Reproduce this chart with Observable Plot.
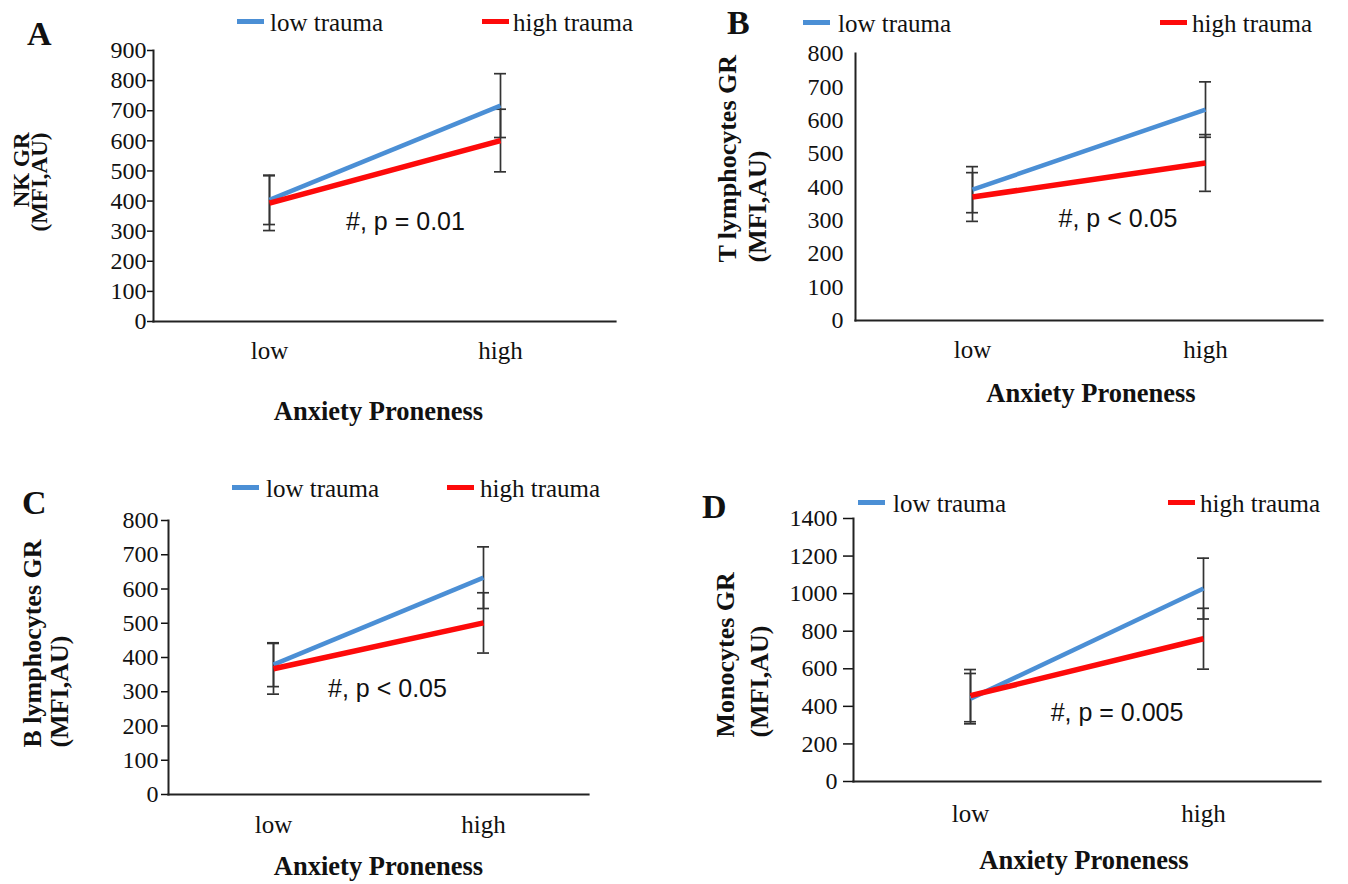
<!DOCTYPE html>
<html><head><meta charset="utf-8">
<script src="https://cdn.jsdelivr.net/npm/d3@7"></script>
<script src="https://cdn.jsdelivr.net/npm/@observablehq/plot@0.6"></script>
<style>
body{margin:0;background:#fff;}
#page{position:relative;width:1348px;height:884px;overflow:hidden;font-family:"Liberation Serif",serif;color:#111;background:#fff;}
#page svg{position:absolute;overflow:visible;}
.letter{position:absolute;font-weight:bold;font-size:34px;line-height:34px;}
.sw{position:absolute;width:27px;height:5px;}
.lt{position:absolute;font-size:25px;line-height:25px;white-space:nowrap;}
</style></head><body><div id="page"></div>
<script>
// ---------- data ----------
const anxiety = ["low", "high"];
const trauma = ["low trauma", "high trauma"];
const xTitle = "Anxiety Proneness";

// Panel A: NK GR
const nkLowTrauma = [404, 717];
const nkHighTrauma = [393, 601];
const nkLowTraumaErr = [82, 106];
const nkHighTraumaErr = [91, 104];
const nkTicks = [0, 100, 200, 300, 400, 500, 600, 700, 800, 900];

// Panel B: T lymphocytes GR
const tLowTrauma = [392, 632];
const tHighTrauma = [370, 472];
const tLowTraumaErr = [69, 83];
const tHighTraumaErr = [73, 85];
const tTicks = [0, 100, 200, 300, 400, 500, 600, 700, 800];

// Panel C: B lymphocytes GR
const bLowTrauma = [379, 633];
const bHighTrauma = [367, 501];
const bLowTraumaErr = [64, 90];
const bHighTraumaErr = [74, 88];
const bTicks = [0, 100, 200, 300, 400, 500, 600, 700, 800];

// Panel D: Monocytes GR
const mLowTrauma = [441, 1027];
const mHighTrauma = [457, 760];
const mLowTraumaErr = [134, 162];
const mHighTraumaErr = [139, 162];
const mTicks = [0, 200, 400, 600, 800, 1000, 1200, 1400];

const panelLetters = ["A", "B", "C", "D"];
const yTitles = ["NK GR\n(MFI,AU)", "T lymphocytes GR\n(MFI,AU)", "B lymphocytes GR\n(MFI,AU)", "Monocytes GR\n(MFI,AU)"];
const pLabels = ["#, p = 0.01", "#, p < 0.05", "#, p < 0.05", "#, p = 0.005"];
const pLabelY = [329, 305, 309, 367];

const colors = {"low trauma": "#4b8fd5", "high trauma": "#fd0a0a"};

// ---------- build ----------
function rows(lowT, highT, lowE, highE) {
  const out = [];
  anxiety.forEach((a, i) => {
    out.push({anxiety: a, trauma: trauma[0], mean: lowT[i], lo: lowT[i] - lowE[i], hi: lowT[i] + lowE[i]});
    out.push({anxiety: a, trauma: trauma[1], mean: highT[i], lo: highT[i] - highE[i], hi: highT[i] + highE[i]});
  });
  return out;
}

const panels = [
  {data: rows(nkLowTrauma, nkHighTrauma, nkLowTraumaErr, nkHighTraumaErr), ticks: nkTicks,
   left: 0, top: 40, width: 674, height: 400, mL: 153, mR: 59, mT: 10, mB: 119,
   tickSize: 6, tickPad: 1, xPad: 20, xTitleDy: 90, xTitleDx: -6,
   yt: {size: 23, lh: 0.78, anchor: "end", dx: -121.5, dy: -53.5}, pDx: 21},
  {data: rows(tLowTrauma, tHighTrauma, tLowTraumaErr, tHighTraumaErr), ticks: tTicks,
   left: 674, top: 40, width: 674, height: 400, mL: 181, mR: 26, mT: 13, mB: 120,
   tickSize: 0, tickPad: 12, xPad: 20, xTitleDy: 73, xTitleDx: 2,
   yt: {size: 26, lh: 1.15, anchor: "start", dx: -114, dy: 75.5}, pDx: 29},
  {data: rows(bLowTrauma, bHighTrauma, bLowTraumaErr, bHighTraumaErr), ticks: bTicks,
   left: 0, top: 480, width: 674, height: 404, mL: 168, mR: 86, mT: 40, mB: 90,
   tickSize: 7, tickPad: 3, xPad: 21, xTitleDy: 72, xTitleDx: 0,
   yt: {size: 26, lh: 1.04, anchor: "start", dx: -122.5, dy: 90}, pDx: 9},
  {data: rows(mLowTrauma, mHighTrauma, mLowTraumaErr, mHighTraumaErr), ticks: mTicks,
   left: 674, top: 480, width: 674, height: 404, mL: 179, mR: 28, mT: 38, mB: 103,
   tickSize: 10, tickPad: 6, xPad: 23, xTitleDy: 79, xTitleDx: -3,
   yt: {size: 26, lh: 1.3, anchor: "start", dx: -113, dy: 87.5}, pDx: 30}
];

const page = document.getElementById("page");

panels.forEach((p, k) => {
  const ymax = p.ticks[p.ticks.length - 1];
  const chart = Plot.plot({
    width: p.width, height: p.height,
    marginLeft: p.mL, marginRight: p.mR, marginTop: p.mT, marginBottom: p.mB,
    style: {fontFamily: "Liberation Serif", fontSize: "24px", color: "#111", background: "transparent", overflow: "visible"},
    x: {type: "point", domain: anxiety, padding: 0.5},
    y: {domain: [0, ymax]},
    marks: [
      Plot.axisY(p.ticks, {tickSize: p.tickSize, tickPadding: p.tickPad, tickFormat: d => String(d), fontSize: 24, strokeWidth: 1.5, label: null}),
      Plot.axisX({tickSize: 0, tickPadding: p.xPad, fontSize: 25, label: null}),
      Plot.frame({anchor: "left", strokeWidth: 2, stroke: "#222"}),
      Plot.frame({anchor: "bottom", strokeWidth: 2.2, stroke: "#222"}),
      Plot.ruleX(p.data, {x: "anxiety", y1: "lo", y2: "hi", stroke: "#333", strokeWidth: 1.7}),
      Plot.ruleY(p.data, {x1: "anxiety", x2: "anxiety", y: "lo", insetLeft: -6, insetRight: -6, stroke: "#333", strokeWidth: 1.7}),
      Plot.ruleY(p.data, {x1: "anxiety", x2: "anxiety", y: "hi", insetLeft: -6, insetRight: -6, stroke: "#333", strokeWidth: 1.7}),
      Plot.lineY(p.data.filter(d => d.trauma === trauma[0]), {x: "anxiety", y: "mean", stroke: colors[trauma[0]], strokeWidth: 4.5, strokeLinecap: "butt"}),
      Plot.lineY(p.data.filter(d => d.trauma === trauma[1]), {x: "anxiety", y: "mean", stroke: colors[trauma[1]], strokeWidth: 5.5, strokeLinecap: "butt"}),
      Plot.text([{label: pLabels[k], y: pLabelY[k]}], {y: "y", text: "label", frameAnchor: "middle", dx: p.pDx, lineAnchor: "middle", fontFamily: "Liberation Sans", fontSize: 25, fill: "#111"}),
      Plot.text([xTitle], {frameAnchor: "bottom", lineAnchor: "middle", dy: p.xTitleDy, dx: p.xTitleDx, fontWeight: "bold", fontSize: 26.5, fill: "#111"}),
      Plot.text([yTitles[k]], {frameAnchor: "left", rotate: -90, textAnchor: p.yt.anchor, lineAnchor: "middle", lineHeight: p.yt.lh, dx: p.yt.dx, dy: p.yt.dy, fontWeight: "bold", fontSize: p.yt.size, fill: "#111"})
    ]
  });
  chart.style.left = p.left + "px";
  chart.style.top = p.top + "px";
  page.appendChild(chart);
});

// panel letters (baseline positions)
const letterPos = [[27, 45], [727, 34], [22, 514], [702, 518]];
panelLetters.forEach((L, i) => {
  const d = document.createElement("div");
  d.className = "letter";
  d.textContent = L;
  d.style.left = letterPos[i][0] + "px";
  d.style.top = (letterPos[i][1] - 28) + "px";
  page.appendChild(d);
});

// legends: [blueSwatchX, blueTextX, redSwatchX, redTextX, baseline]
const legendPos = [
  [237, 270, 482, 513, 31],
  [803, 838, 1160, 1192, 32],
  [232, 266, 447, 480, 497],
  [858, 893, 1168, 1200, 512]
];
legendPos.forEach(lp => {
  [[lp[0], lp[1], trauma[0]], [lp[2], lp[3], trauma[1]]].forEach(([sx, tx, name]) => {
    const s = document.createElement("div");
    s.className = "sw";
    s.style.left = sx + "px";
    s.style.top = (lp[4] - 12) + "px";
    s.style.background = colors[name];
    page.appendChild(s);
    const t = document.createElement("div");
    t.className = "lt";
    t.textContent = name;
    t.style.left = tx + "px";
    t.style.top = (lp[4] - 21) + "px";
    page.appendChild(t);
  });
});
</script></body></html>
